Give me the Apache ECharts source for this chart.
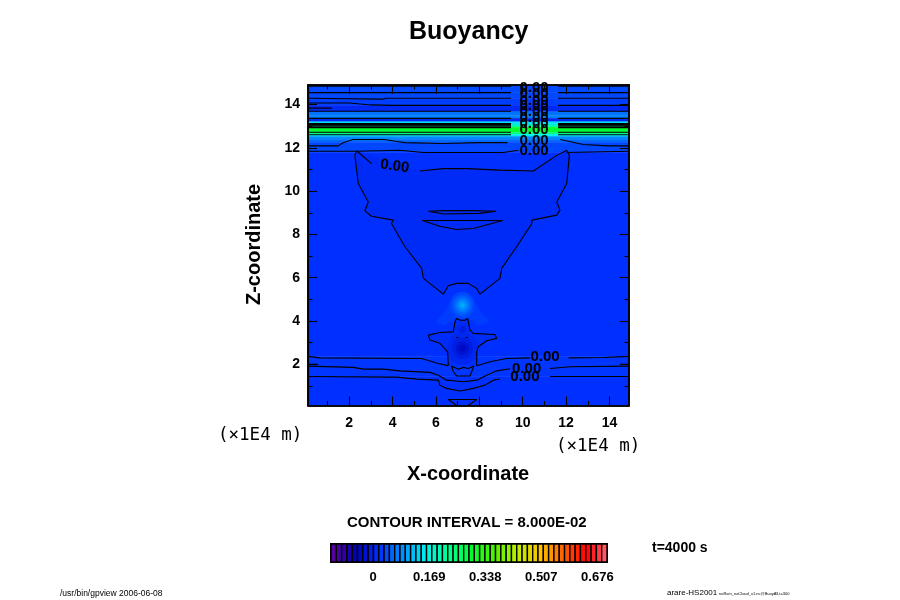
<!DOCTYPE html>
<html>
<head>
<meta charset="utf-8">
<title>Buoyancy</title>
<script src="https://cdn.jsdelivr.net/npm/echarts@6/dist/echarts.min.js"></script>
<style>
  html, body { margin: 0; padding: 0; background: #fff; }
  #chart { width: 900px; height: 600px; }
</style>
</head>
<body>
<div id="chart"></div>
<script>
// tick labels
const majorTicks = [2, 4, 6, 8, 10, 12, 14];
const minorTicks = [1, 3, 5, 7, 9, 11, 13];
const colorbarTicks = [0, 0.169, 0.338, 0.507, 0.676];

// colour ramp, same look as the colorbar
const ramp = ['#5a00a0', '#0000b4', '#0030ff', '#0090ff', '#00f0f0', '#00ff90', '#00ff30',
  '#50f000', '#c0f000', '#ffc000', '#ff6000', '#ff0000', '#ff7080'];
const barEdges = [-0.127, -0.111, -0.095, -0.079, -0.063, -0.047, -0.031, -0.015, 0.001, 0.017,
  0.033, 0.049, 0.065, 0.081, 0.097, 0.113, 0.129, 0.145, 0.161, 0.177, 0.193, 0.209, 0.225,
  0.241, 0.257, 0.273, 0.289, 0.305, 0.321, 0.337, 0.353, 0.369, 0.385, 0.401, 0.417, 0.433,
  0.449, 0.465, 0.481, 0.497, 0.513, 0.529, 0.545, 0.561, 0.577, 0.593, 0.609, 0.625, 0.641,
  0.657, 0.673, 0.689, 0.705];

// horizontal layers of the field: z top, z bottom, buoyancy
const bandTop = [14.9, 14.56, 14.29, 13.95, 13.67, 13.5, 13.36, 13.2, 13.13, 13.05, 12.95, 12.72, 12.62, 12.52, 12.4, 12.26, 11.8, 2.37, 1.44];
const bandBottom = [14.56, 14.29, 13.95, 13.67, 13.5, 13.36, 13.2, 13.13, 13.05, 12.95, 12.72, 12.62, 12.52, 12.4, 12.26, 11.8, 2.37, 1.44, 0.1];
const bandValue = [0.03, 0.03, 0.022, 0.002, 0.06, 0.07, 0.0, 0.14, 0.14, 0.2, 0.29, 0.24, 0.15, 0.08, 0.055, 0.028, 0.012, 0.016, 0.012];

// contour lines [x, z] in units of 1E4 m
const cupLine = [[2.34, 11.86], [2.26, 11.65], [2.42, 10.35], [2.88, 9.5], [2.72, 9.09], [3.03, 8.84],
  [4.03, 8.66], [3.95, 8.5], [4.57, 7.43], [5.34, 6.43], [5.42, 5.97], [6.34, 5.24], [6.57, 5.63],
  [6.95, 5.74], [7.49, 5.74], [7.88, 5.5], [8.03, 5.24], [8.95, 5.97], [9.03, 6.43], [9.72, 7.43],
  [10.42, 8.5], [10.42, 8.66], [11.57, 8.89], [11.72, 9.12], [11.57, 9.5], [12.03, 10.35],
  [12.15, 11.65], [12.03, 11.89], [11.57, 11.65], [10.49, 10.93], [8.95, 10.97], [7.42, 11.04],
  [6.34, 11.04], [5.26, 10.93]];
const cupCorner = [[3.03, 11.27], [2.34, 11.86]];
const lensUpper = [[5.65, 9.07], [6.34, 9.1], [7.7, 9.1], [8.77, 9.07], [8.0, 8.97], [6.34, 8.94], [5.65, 9.07]];
const lensLower = [[5.37, 8.64], [9.08, 8.64], [7.72, 8.27], [6.95, 8.23], [6.18, 8.38], [5.37, 8.64]];
const crossLine = [[6.57, 1.94], [6.54, 2.58], [6.18, 2.97], [5.72, 3.12], [5.65, 3.35], [6.18, 3.47],
  [6.8, 3.5], [6.88, 3.97], [6.95, 4.12], [7.11, 4.04], [7.34, 4.04], [7.46, 4.12], [7.57, 3.58],
  [7.72, 3.43], [8.72, 3.38], [8.8, 3.2], [8.34, 3.09], [7.95, 2.81], [7.88, 2.58], [7.88, 1.94]];
const lineLowLeft = [[0.1, 2.37], [0.65, 2.3], [5.34, 2.27], [6.11, 2.04], [6.57, 1.94]];
const lineLowRight = [[7.88, 1.94], [8.49, 2.12], [9.26, 2.27], [10.34, 2.3]];
const lineLowEnd = [[12.11, 2.3], [13.72, 2.32], [14.9, 2.37]];
const lineMidLeft = [[0.1, 1.92], [2.18, 1.86], [2.65, 1.78], [3.57, 1.78], [4.34, 1.7], [5.72, 1.63],
  [6.11, 1.5], [6.49, 1.27], [7.26, 1.2], [7.88, 1.27], [8.34, 1.5], [8.8, 1.7], [9.42, 1.8]];
const lineMidRight = [[11.26, 1.81], [12.18, 1.89], [14.9, 1.92]];
const lineBaseLeft = [[0.1, 1.44], [4.18, 1.41], [5.11, 1.32], [6.11, 1.27], [6.18, 1.04], [6.49, 0.89],
  [7.11, 0.77], [7.72, 0.89], [8.26, 1.04], [8.65, 1.27], [8.95, 1.32]];
const lineBaseRight = [[11.26, 1.44], [14.9, 1.44]];
const stubLeft = [[0.1, 2.0], [0.57, 2.0]];
const stubRight = [[14.5, 2.0], [14.9, 2.0]];
const gobletLine = [[6.72, 1.92], [6.8, 1.66], [6.95, 1.47], [7.57, 1.46], [7.75, 1.92], [7.49, 1.81],
  [7.26, 1.86], [7.03, 1.77], [6.72, 1.92]];
const groundLine = [[6.95, 0.1], [6.57, 0.38], [7.88, 0.38], [7.49, 0.1]];
const dotLeft = [[6.93, 3.24], [6.98, 3.29], [7.03, 3.24], [6.98, 3.19], [6.93, 3.24]];
const dotRight = [[7.37, 3.24], [7.42, 3.29], [7.47, 3.24], [7.42, 3.19], [7.37, 3.24]];
const waveLeft = [[0.1, 12.09], [1.49, 12.09], [1.72, 12.23], [2.18, 12.38], [3.63, 12.38], [4.2, 12.29],
  [4.57, 12.24], [6.3, 12.2], [8.0, 12.24], [9.3, 12.24]];
const waveRight = [[11.73, 12.38], [12.8, 12.15], [13.95, 12.09], [14.9, 12.09]];
const rimLeft = [[0.1, 11.84], [2.34, 11.84], [2.4, 11.92], [4.34, 11.89], [5.42, 11.78], [9.11, 11.78], [9.8, 11.89]];
const rimRight = [[12.03, 11.78], [14.9, 11.84]];
const upperLeft = [[0.1, 14.07], [2.0, 14.07], [3.0, 13.98], [4.0, 13.96], [9.46, 13.96]];
const shortLeft = [[0.1, 13.83], [1.2, 13.83]];
const thirdLeft = [[0.1, 14.29], [3.6, 14.25], [3.7, 14.29], [9.46, 14.29]];

const contourLines = [cupLine, cupCorner, lensUpper, lensLower, crossLine, lineLowLeft,
  lineLowRight, lineLowEnd, lineMidLeft, lineMidRight, lineBaseLeft, lineBaseRight, stubLeft, stubRight,
  gobletLine, groundLine, dotLeft, dotRight, waveLeft, waveRight, rimLeft, rimRight, upperLeft, shortLeft, thirdLeft];

// flat contours of the upper layers, broken where the labels sit
const flatLevels = [14.84, 14.55, 13.69, 13.36, 13.12, 13.08, 13.04, 13.0, 12.93, 12.72, 12.6];
const flatRightLevels = [14.29, 13.96];
const gapStart = 9.46;
const gapEnd = 11.63;

// filled regions: value and outline
const bellOutline = [[6, 3.97], [6.34, 4.35], [6.72, 4.97], [7.22, 5.27], [7.72, 4.97], [8.11, 4.35],
  [8.46, 4.01], [8.03, 3.78], [7.49, 4.12], [6.95, 4.12], [6.34, 3.78]];
const regionOutlines = [cupLine, bellOutline, crossLine];
const regionValues = [0.004, 0.02, 0.006];

// soft blobs: warm one near z=4.7, cold ones near z=2.7 and z=3.6
const blobX = [7.22, 7.22, 7.22, 7.22, 7.22, 7.22, 7.22, 7.22, 7.22, 7.22, 7.22, 7.22];
const blobZ = [4.73, 4.73, 4.73, 4.73, 4.73, 4.73, 2.74, 2.74, 2.74, 2.74, 3.61, 3.61];
const blobRadiusX = [0.58, 0.47, 0.38, 0.29, 0.2, 0.11, 0.7, 0.48, 0.3, 0.15, 0.28, 0.14];
const blobRadiusZ = [0.62, 0.5, 0.4, 0.31, 0.22, 0.12, 0.75, 0.5, 0.32, 0.16, 0.3, 0.15];
const blobValue = [0.028, 0.04, 0.052, 0.066, 0.08, 0.1, -0.002, -0.015, -0.03, -0.045, -0.002, -0.015];

// contour labels
const labelX = [10.52, 10.52, 10.52, 10.52, 10.52, 10.52, 10.52, 10.52, 10.52, 10.52, 4.1, 11.03, 10.18, 10.1];
const labelZ = [14.75, 14.47, 14.19, 13.92, 13.64, 13.36, 13.09, 12.81, 12.3, 11.84, 11.15, 2.35, 1.77, 1.43];
const labelAngle = [0, 0, 0, 0, 0, 0, 0, 0, 0, 0, -8, 0, 0, 0];

const sans = '"Liberation Sans", Arial, sans-serif';
const xMin = 0.1, xMax = 14.9;

function axis(position, ticks, length, extra) {
  return Object.assign({
    type: 'value', position: position, scale: true, z: 10,
    splitLine: { show: false },
    axisLine: { show: true, onZero: false, lineStyle: { color: '#000', width: 1.6 } },
    axisTick: { show: true, inside: true, length: length, customValues: ticks, lineStyle: { color: '#000', width: 1.1 } },
    axisLabel: { show: false }
  }, extra);
}
const tickLabel = { show: true, customValues: majorTicks, color: '#000', fontFamily: sans, fontWeight: 'bold', fontSize: 14 };
const xRange = { min: xMin, max: xMax, gridIndex: 0 };

function rectItem(params, api) {
  const a = api.coord([api.value(1), api.value(4)]);
  const b = api.coord([api.value(2), api.value(3)]);
  const fill = api.visual('color');
  return { type: 'rect', shape: { x: a[0], y: b[1], width: b[0] - a[0], height: a[1] - b[1] }, style: { fill: fill, stroke: fill, lineWidth: 0.5 } };
}
function polygonItem(params, api) {
  const pts = regionOutlines[api.value(1)].map(p => api.coord(p));
  return { type: 'polygon', shape: { points: pts }, style: { fill: api.visual('color') } };
}
function ellipseItem(params, api) {
  const c = api.coord([api.value(1), api.value(2)]);
  const s = api.size([api.value(3), api.value(4)]);
  return { type: 'ellipse', shape: { cx: c[0], cy: c[1], rx: s[0], ry: s[1] }, style: { fill: api.visual('color') } };
}
function textItem(params, api) {
  const c = api.coord([api.value(0), api.value(1)]);
  return {
    type: 'text', x: c[0], y: c[1], rotation: api.value(2) * Math.PI / 180,
    style: { text: '0.00', fill: '#000', font: 'bold 15px ' + sans, align: 'center', verticalAlign: 'middle' }
  };
}
function barItem(params, api) {
  const a = api.coord([api.value(1), 0]);
  const b = api.coord([api.value(2), 1]);
  return { type: 'rect', shape: { x: a[0], y: b[1], width: b[0] - a[0], height: a[1] - b[1] }, style: { fill: api.visual('color'), stroke: '#000', lineWidth: 1.4 } };
}

const bandData = bandValue.map((v, i) => [v, xMin, xMax, bandTop[i], bandBottom[i]]);
const regionData = regionValues.map((v, i) => [v, i]);
const blobData = blobValue.map((v, i) => [v, blobX[i], blobZ[i], blobRadiusX[i], blobRadiusZ[i]]);
const barData = barEdges.slice(0, -1).map((v, i) => [v, v, barEdges[i + 1]]);

const lineSeries = (data) => ({
  type: 'line', data: data, xAxisIndex: 0, yAxisIndex: 0, showSymbol: false, symbol: 'none', z: 5,
  silent: true, lineStyle: { color: '#000', width: 1.1 }
});
const flatSeries = [];
flatLevels.forEach(z => {
  flatSeries.push(lineSeries([[xMin, z], [gapStart, z]]));
  flatSeries.push(lineSeries([[gapEnd, z], [xMax, z]]));
});
flatRightLevels.forEach(z => flatSeries.push(lineSeries([[gapEnd, z], [xMax, z]])));

const words = (text, left, top, size, weight, family) => ({
  text: text, left: left, top: top, padding: 0,
  textStyle: { fontFamily: family || sans, fontSize: size, fontWeight: weight || 'bold', color: '#000' }
});

const chart = echarts.init(document.getElementById('chart'), null, { renderer: 'canvas' });
chart.setOption({
  animation: false,
  backgroundColor: '#fff',
  title: [
    words('Buoyancy', 409, 20, 25),
    words('X-coordinate', 407, 464, 20),
    words('(×1E4 m)', 218, 426, 17.5, 'normal', '"DejaVu Sans Mono"'),
    words('(×1E4 m)', 556, 437, 17.5, 'normal', '"DejaVu Sans Mono"'),
    words('CONTOUR INTERVAL = 8.000E-02', 347, 515, 15),
    words('t=4000 s', 652, 541, 14),
    words('/usr/bin/gpview 2006-06-08', 60, 589, 8.5, 'normal'),
    words('arare-HS2001', 667, 589, 8, 'normal'),
    words('noRain_noCloud_x1.nc@BuoyAll,t=300', 719, 592, 4, 'normal')
  ],
  graphic: [{
    type: 'text', x: 254, y: 244.5, rotation: Math.PI / 2,
    style: { text: 'Z-coordinate', fill: '#000', font: 'bold 20px ' + sans, align: 'center', verticalAlign: 'middle' }
  }],
  grid: [
    { left: 308, top: 85, width: 321, height: 320.5, containLabel: false },
    { left: 331, top: 544, width: 276, height: 18, show: true, borderColor: '#000', borderWidth: 2 }
  ],
  xAxis: [
    axis('bottom', majorTicks, 9, Object.assign({ axisLabel: Object.assign({ margin: 11 }, tickLabel) }, xRange)),
    axis('top', majorTicks, 9, xRange),
    axis('bottom', minorTicks, 4.5, xRange),
    axis('top', minorTicks, 4.5, xRange),
    { type: 'value', gridIndex: 1, min: -0.127, max: 0.705, splitLine: { show: false },
      axisLine: { show: false }, axisTick: { show: false },
      axisLabel: { customValues: colorbarTicks, margin: 9, color: '#000', fontFamily: sans, fontWeight: 'bold', fontSize: 13, formatter: v => String(v) } }
  ],
  yAxis: [
    axis('left', majorTicks, 9, Object.assign({ axisLabel: Object.assign({ margin: 8 }, tickLabel) }, xRange)),
    axis('right', majorTicks, 9, xRange),
    axis('left', minorTicks, 4.5, xRange),
    axis('right', minorTicks, 4.5, xRange),
    { type: 'value', gridIndex: 1, min: 0, max: 1, show: false }
  ],
  visualMap: {
    show: false, type: 'continuous', min: -0.127, max: 0.705, dimension: 0,
    seriesIndex: [0, 1, 2, 3], inRange: { color: ramp }
  },
  series: [
    { type: 'custom', data: bandData, renderItem: rectItem, xAxisIndex: 0, yAxisIndex: 0, z: 1, silent: true, clip: true },
    { type: 'custom', data: regionData, renderItem: polygonItem, xAxisIndex: 0, yAxisIndex: 0, z: 2, silent: true },
    { type: 'custom', data: blobData, renderItem: ellipseItem, xAxisIndex: 0, yAxisIndex: 0, z: 3, silent: true },
    { type: 'custom', data: barData, renderItem: barItem, xAxisIndex: 4, yAxisIndex: 4, silent: true },
    { type: 'custom', data: labelX.map((x, i) => [x, labelZ[i], labelAngle[i]]), renderItem: textItem, xAxisIndex: 0, yAxisIndex: 0, z: 6, silent: true, clip: false }
  ].concat(contourLines.map(lineSeries), flatSeries)
});
</script>
</body>
</html>
